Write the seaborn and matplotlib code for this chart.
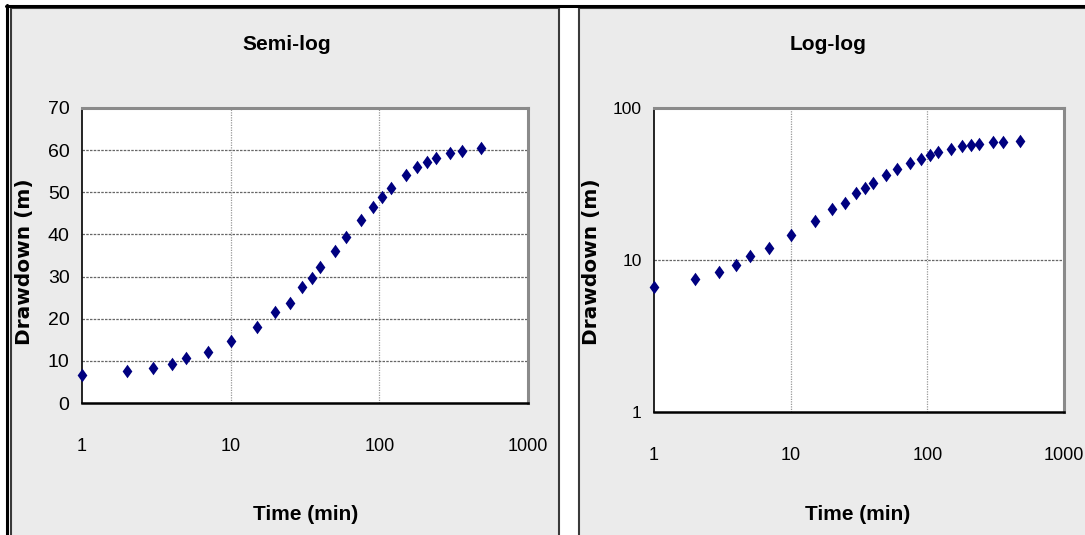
import numpy as np
import pandas as pd
import seaborn as sns
import matplotlib.pyplot as plt
from matplotlib.patches import Rectangle
from matplotlib.lines import Line2D
from matplotlib.ticker import FixedLocator, FixedFormatter, NullLocator

# pumping test readings
time_min = [1, 2, 3, 4, 5, 7, 10, 15, 20, 25, 30, 35, 40, 50, 60, 75, 90,
            105, 120, 150, 180, 210, 240, 300, 360, 480]
drawdown_m = [6.6, 7.5, 8.3, 9.3, 10.6, 12.0, 14.6, 18.1, 21.7, 23.8, 27.5,
              29.6, 32.2, 36.1, 39.5, 43.4, 46.5, 49.0, 51.0, 54.0, 56.0,
              57.2, 58.1, 59.3, 59.8, 60.4]

x_ticks = [1, 10, 100, 1000]
semi_y_ticks = [0, 10, 20, 30, 40, 50, 60, 70]
log_y_ticks = [1, 10, 100]

SANS = ['Liberation Sans', 'DejaVu Sans']
BG = '#ebebeb'
NAVY = '#000080'
# slim diamond like the spreadsheet marker
DIAMOND = [(0, 1), (0.72, 0), (0, -1), (-0.72, 0), (0, 1)]

W, H = 1085, 535


def fx(px):
    return px / W


def fy(py):
    return 1 - py / H


def style_axes(ax, y_ticks, ylog, ysize):
    ax.set_facecolor('white')
    ax.set_xscale('log')
    if ylog:
        ax.set_yscale('log')
    ax.set_xlim(1, 1000)
    ax.set_ylim(y_ticks[0], y_ticks[-1])
    ax.xaxis.set_major_locator(FixedLocator(x_ticks))
    ax.xaxis.set_major_formatter(FixedFormatter([str(t) for t in x_ticks]))
    ax.xaxis.set_minor_locator(NullLocator())
    ax.yaxis.set_major_locator(FixedLocator(y_ticks))
    ax.yaxis.set_major_formatter(FixedFormatter([str(t) for t in y_ticks]))
    ax.yaxis.set_minor_locator(NullLocator())
    ax.tick_params(axis='x', direction='out', length=7, width=1, pad=18,
                   colors='black', labelsize=13)
    ax.tick_params(axis='y', direction='out', length=6, width=1, pad=3,
                   colors='black', labelsize=ysize)
    for lab in ax.get_xticklabels() + ax.get_yticklabels():
        lab.set_family(SANS)
    ax.grid(False)
    for t in y_ticks[1:-1]:
        ax.axhline(t, color='#666666', lw=0.9, ls=(0, (2, 1)), zorder=1)
    for t in x_ticks[1:-1]:
        ax.axvline(t, color='#999999', lw=0.9, ls=(0, (1, 1)), zorder=1)
    ax.spines['left'].set_color('black')
    ax.spines['bottom'].set_color('black')
    ax.spines['left'].set_linewidth(1.2)
    ax.spines['bottom'].set_linewidth(1.8)
    ax.spines['top'].set_color('#8a8a8a')
    ax.spines['right'].set_color('#8a8a8a')
    ax.spines['top'].set_linewidth(2.2)
    ax.spines['right'].set_linewidth(2.2)


def main():
    sns.set_style('white')
    plt.rcParams['text.color'] = 'black'
    df = pd.DataFrame({'Time': time_min, 'Drawdown': drawdown_m})

    fig = plt.figure(figsize=(W / 100, H / 100), dpi=100, facecolor='white')

    # panel backgrounds and frames (behind the axes)
    for left, width in ((11, 548), (579, 520)):
        fig.patches.append(Rectangle((fx(left), -0.05), fx(width), fy(8) + 0.05,
                                     transform=fig.transFigure, facecolor=BG,
                                     edgecolor='#3a3a3a', lw=1.5, zorder=-5))
    fig.lines.append(Line2D([fx(6), 1], [fy(5.5), fy(5.5)], transform=fig.transFigure,
                            color='black', lw=2.2, zorder=-4))
    fig.lines.append(Line2D([fx(6.5), fx(6.5)], [fy(5), 0], transform=fig.transFigure,
                            color='black', lw=2.2, zorder=-4))

    ax1 = fig.add_axes([fx(82), fy(403), fx(528 - 82), (403 - 108) / H])
    ax2 = fig.add_axes([fx(654), fy(412), fx(1064 - 654), (412 - 108) / H])

    for ax, ticks, ylog, ysize in ((ax1, semi_y_ticks, False, 14),
                                   (ax2, log_y_ticks, True, 12.5)):
        style_axes(ax, ticks, ylog, ysize)
        sns.scatterplot(data=df, x='Time', y='Drawdown', ax=ax, marker=DIAMOND,
                        s=95, color=NAVY, edgecolor=NAVY, linewidth=0,
                        clip_on=False, zorder=5, legend=False)
        ax.set_xlabel('')
        ax.set_ylabel('')

    # titles and axis labels
    fig.text(fx(287), fy(45), 'Semi-log', ha='center', va='center',
             fontsize=15, fontweight='bold', family=SANS)
    fig.text(fx(828), fy(45), 'Log-log', ha='center', va='center',
             fontsize=15, fontweight='bold', family=SANS)
    fig.text(fx(306), fy(514), 'Time (min)', ha='center', va='center',
             fontsize=15, fontweight='bold', family=SANS)
    fig.text(fx(858), fy(514), 'Time (min)', ha='center', va='center',
             fontsize=15, fontweight='bold', family=SANS)
    fig.text(fx(25), fy(262), 'Drawdown (m)', ha='center', va='center',
             rotation=90, fontsize=14.5, fontweight='bold', family='DejaVu Sans')
    fig.text(fx(592), fy(262), 'Drawdown (m)', ha='center', va='center',
             rotation=90, fontsize=14.5, fontweight='bold', family='DejaVu Sans')

    fig.savefig('out.png', dpi=100, facecolor='white')
    plt.close(fig)


if __name__ == '__main__':
    main()
